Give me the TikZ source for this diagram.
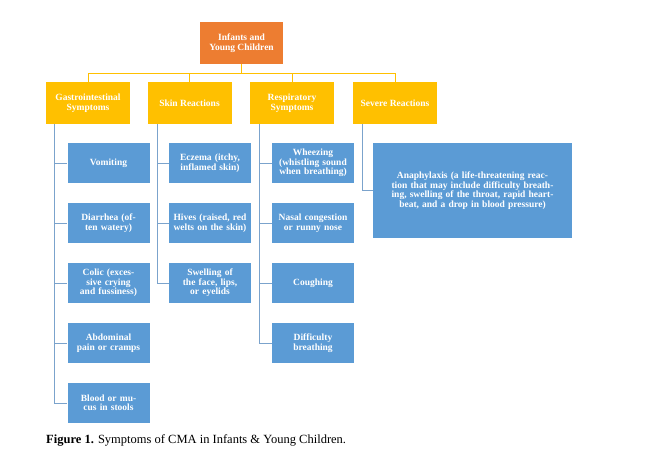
\documentclass[tikz,border=0pt]{standalone}
\usepackage{fontspec}
\setmainfont{Liberation Serif}
\usetikzlibrary{positioning}
\definecolor{cmaorange}{HTML}{ED7D31}
\definecolor{cmayellow}{HTML}{FFC000}
\definecolor{cmablue}{HTML}{5B9BD5}
\definecolor{cmaline}{HTML}{7BA3CC}
\tikzset{
  box/.style={draw=none, text=white, font=\fontsize{9.5}{9.5}\selectfont\bfseries, align=center, inner sep=1pt},
  top/.style={box, fill=cmaorange, minimum width=83pt, minimum height=42pt},
  cat/.style={box, fill=cmayellow, minimum width=84pt, minimum height=42pt},
  leaf/.style={box, fill=cmablue, minimum width=82pt, minimum height=40pt, text width=80pt},
  yline/.style={draw=cmayellow, line width=1pt},
  bline/.style={draw=cmaline, line width=0.8pt}
}
\begin{document}
\begin{tikzpicture}[x=1pt,y=-1pt]
        \useasboundingbox (0,0) rectangle (662,462);
        \node[top] (root) at (241.5,43) {Infants and\\Young Children};
        \node[cat] (gi) at (88,103) {Gastrointestinal\\Symptoms};
        \node[cat] (skin) at (189.5,103) {Skin Reactions};
        \node[cat] (resp) at (292,103) {Respiratory\\Symptoms};
        \node[cat] (sev) at (395,103) {Severe Reactions};
        % tree lines from the root
        \coordinate (bus) at (241.5,74);
        \draw[yline] (root.south) -- (bus);
        \foreach \c in {gi,skin,resp,sev}
            \draw[yline] (bus) -| (\c.north);
        % leaves
        \node[leaf] (gi1) at (108.5,163) {Vomiting};
        \node[leaf] (gi2) at (108.5,223) {Diarrhea (often watery)};
        \node[leaf] (gi3) at (108.5,283) {Colic (excessive crying and fussiness)};
        \node[leaf] (gi4) at (108.5,343) {Abdominal pain or cramps};
        \node[leaf] (gi5) at (108.5,403) {Blood or mucus in stools};
        \node[leaf] (sk1) at (210,163) {Eczema (itchy, inflamed skin)};
        \node[leaf] (sk2) at (210,223) {Hives (raised, red welts on the skin)};
        \node[leaf] (sk3) at (210,283) {Swelling of the face, lips, or eyelids};
        \node[leaf] (re1) at (313,163) {Wheezing (whistling sound when breathing)};
        \node[leaf] (re2) at (313,223) {Nasal congestion or runny nose};
        \node[leaf] (re3) at (313,283) {Coughing};
        \node[leaf] (re4) at (313,343) {Difficulty breathing};
        \node[leaf, minimum width=199pt, minimum height=95pt, text width=194pt] (sv1) at (472.5,190.5)
            {Anaphylaxis (a life-threatening reaction that may include difficulty breathing, swelling of the throat, rapid heartbeat, and a drop in blood pressure)};
        % side lines to the leaves
        \foreach \p/\x/\l in {gi/54/{gi1,gi2,gi3,gi4,gi5}, skin/157/{sk1,sk2,sk3}, resp/259/{re1,re2,re3,re4}, sev/362/{sv1}}
            \foreach \c in \l
                \draw[bline] (\p.south -| \x,0) |- (\c.west);
        \node[anchor=west, font=\fontsize{12.5}{12.5}\selectfont, inner sep=0pt] (cap) at (46,440)
            {\textbf{Figure 1.} Symptoms of CMA in Infants \& Young Children.};
\end{tikzpicture}
\end{document}
